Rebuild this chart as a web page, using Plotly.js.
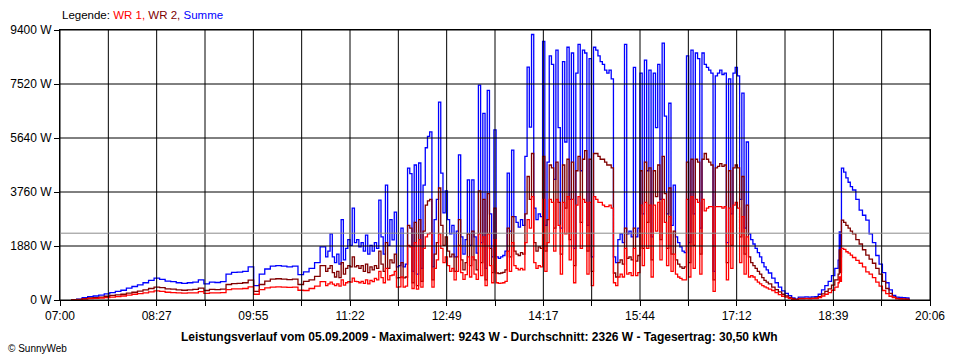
<!DOCTYPE html>
<html>
<head>
<meta charset="utf-8">
<script src="https://cdn.plot.ly/plotly-3.0.1.min.js"></script>
<style>
  html, body { margin: 0; padding: 0; background: #fff; }
  #chart { width: 960px; height: 360px; }
</style>
</head>
<body>
<div id="chart"></div>
<script>
// ---- Data (watts) ----
// Segment A: from 07:10, one sample every 5 minutes
const segAStart = "07:10";
const segAStep = 5;
const sumA = [0,30,80,120,140,170,210,260,300,340,410,470,530,600,680,760,720,660,640,600,580,600,620,700,560,620,610,640,900,960,970,1000,1150,500,900,1080,1180,1200,1180,1150,1180,880,980,1100,1300,1850];
const wr2A = [0,20,50,70,80,100,130,160,180,200,240,270,310,350,400,450,430,390,380,350,340,350,370,410,330,370,360,380,540,570,580,600,690,300,540,660,730,740,730,710,730,540,650,700,820,1200];
const wr1A = [0,10,30,50,60,70,80,100,120,140,170,200,220,250,280,320,300,270,260,250,240,250,250,290,230,250,250,260,360,390,390,400,460,200,360,420,450,460,450,440,450,340,330,400,480,640];

// Segment B: from 11:00, one sample every 2 minutes
const segBStart = "11:00";
const segBStep = 2;
const sumB = [
  1500,1700,2300,1500,1300,1600,1250,2800,1400,1800,2100,1900,3200,2000,2100,1850,2000,1700,2260,1600,1900,1700,2000,1800,3480,2200,1600,4000,1900,2800,
  2090,3060,1150,1200,2500,1150,1250,4590,4400,1000,4700,900,4770,1100,4000,5300,5700,5850,1150,2800,3500,6890,4420,3030,3800,
  2800,2300,2600,1500,2400,5050,2200,1600,2100,4180,1900,4180,2200,1630,7480,2000,6500,1100,7300,3000,1500,5920,1500,1450,1500,1550,1700,4420,2400,5220,2900,2700,2540,2800,2600,5000,8110,6020,9243,
  3200,2800,3000,2900,9000,2600,4800,8500,8200,4200,8700,6000,2500,8300,5500,8800,3500,8600,1800,7900,8900,4500,8700,8600,2600,8400,1500,8800,8700,8500,8300,8200,8000,7900,8000,7700,
  1500,1300,2100,2300,2000,8900,2300,2400,2200,8100,2200,2500,7900,3000,8350,4500,8000,2200,7900,6000,8200,3500,8940,6400,3000,6850,2600,4000,2200,
  2000,1850,1700,1650,8500,2000,8700,3000,8600,8400,2500,8600,8200,8100,8000,7900,1000,7800,7900,8000,7850,7900,2000,7700,3000,7900,8100,7800,3500,7200,2500,5500,2300,2100,1950,1800,1650,1500,1300,1150,1050,940
];
const wr2B = [
  1000,1100,1200,950,800,1000,780,1300,900,1100,1200,1150,1500,1150,1200,1100,1200,1000,1250,950,1150,1050,1200,1100,1700,1250,1000,2000,1100,1400,
  1290,1600,770,780,1300,770,800,2600,2500,600,2700,500,2800,650,2400,3300,3450,3500,700,1600,2000,3900,2600,1900,2200,
  1700,1500,1600,1000,1500,2800,1400,1050,1300,2300,1200,2400,1400,1050,3800,1300,3500,700,3700,1800,950,3200,940,920,940,960,1050,2500,1500,2900,1700,1600,1550,1650,1600,3000,4300,3500,5100,
  2000,1700,1850,1800,5000,1700,2800,4700,4600,2500,4800,3400,1600,4700,3200,4900,2100,4800,1200,4500,5000,2700,4900,5200,1700,4900,1000,5100,5100,5000,4900,4900,4800,4700,4700,4600,
  940,800,1300,1400,1250,2500,1450,1500,1400,2500,1350,1550,4500,1800,4800,2700,4600,1400,4500,3600,4700,2100,5000,3700,1800,3900,1600,2400,1400,
  1250,1150,1100,1150,4800,1300,4900,1900,4900,4800,1600,4900,5100,4900,4800,4700,700,4600,4650,4750,4650,4700,1300,4500,1900,4600,4700,4600,2200,4300,1600,3300,1500,1300,1200,1100,1000,900,780,680,620,560
];
const wr1B = [
  500,560,620,550,500,560,480,700,520,600,640,620,760,650,640,600,650,580,700,560,680,640,750,700,1000,780,600,1100,700,850,
  870,1000,450,460,800,450,480,1900,1850,400,2000,380,2100,450,1800,2200,2300,2330,450,1100,1400,2300,1800,1300,1500,
  1200,1000,1100,700,1000,1900,950,720,880,1500,800,1500,900,720,2300,850,2200,500,2300,1200,600,2100,600,580,590,600,650,1700,1000,2000,1200,1100,1050,1100,1050,2000,2800,2500,3600,
  1300,1100,1200,1150,3500,1000,2000,3500,3400,1700,3500,2600,900,3400,2300,3600,1400,3500,600,3300,3600,1800,3500,3400,900,3400,500,3600,3500,3400,3400,3300,3250,3250,3300,3200,
  600,500,800,900,800,1800,900,950,850,1800,850,950,3300,1200,3400,1800,3300,800,3300,2400,3400,1400,3500,2700,1200,2900,1000,1600,900,
  800,750,700,700,3500,800,3600,1100,3500,3400,900,3500,3100,3200,3250,3250,300,3250,3250,3250,3200,3250,700,3200,1100,3300,3400,3200,1300,2900,900,2200,800,850,800,700,620,560,500,460,420,380
];

// Segment C: explicit times
const timesC = ["17:43","17:46","17:49","17:52","17:55","17:58","18:01","18:04","18:07","18:10","18:13","18:16","18:19","18:22","18:25","18:28","18:31","18:34","18:37","18:40","18:43","18:44","18:45","18:46","18:48","18:50","18:52","18:54","18:56","18:59","19:02","19:05","19:08","19:11","19:14","19:17","19:20","19:23","19:26","19:29","19:32","19:35","19:38","19:41","19:44","19:47"];
const sumC = [760,600,450,320,230,150,70,30,100,100,110,100,110,120,200,350,500,650,850,1100,1390,2370,1500,4590,4450,4250,4100,3950,3830,3500,3130,2950,2780,2300,2000,1550,1250,950,600,350,160,100,90,80,70,0];
const wr2C = [450,360,280,200,140,90,45,20,60,60,60,60,65,70,120,210,300,390,520,700,900,1740,950,2780,2700,2600,2500,2400,2300,2100,1950,1750,1560,1420,1280,1100,900,650,400,230,110,60,50,40,30,0];
const wr1C = [330,260,190,130,100,60,25,10,40,40,50,40,45,50,80,140,200,260,340,450,600,800,650,1800,1760,1680,1630,1560,1480,1380,1280,1150,980,900,780,620,480,330,220,130,80,40,35,30,25,0];

// Axis / labels
const xStart = "07:00", xEnd = "20:06";
const xLabels = ["07:00","08:27","09:55","11:22","12:49","14:17","15:44","17:12","18:39","20:06"];
const yLabels = ["0 W","1880 W","3760 W","5640 W","7520 W","9400 W"];
const yMax = 9400, yStep = 1880;
const average = 2326;
const titleText = "Leistungsverlauf vom 05.09.2009 - Maximalwert: 9243 W - Durchschnitt: 2326 W - Tagesertrag: 30,50 kWh";

// ---- helpers ----
function toMin(t){ const p=t.split(":"); return (+p[0])*60 + (+p[1]); }
function seqTimes(start, step, n){ const s=toMin(start); const out=[]; for(let i=0;i<n;i++) out.push(s+i*step); return out; }

const xA = seqTimes(segAStart, segAStep, sumA.length);
const xB = seqTimes(segBStart, segBStep, sumB.length);
const xC = timesC.map(toMin);
const X = xA.concat(xB, xC);
const S = sumA.concat(sumB, sumC);
const W2 = wr2A.concat(wr2B, wr2C);
const W1 = wr1A.concat(wr1B, wr1C);

const x0 = toMin(xStart), x1 = toMin(xEnd);
const nInt = (xLabels.length - 1) * 2;
const tickvals = [], ticktext = [];
for (let k = 0; k <= nInt; k++) {
  tickvals.push(x0 + k * (x1 - x0) / nInt);
  ticktext.push(k % 2 === 0 ? xLabels[k / 2] : "");
}
const yvals = yLabels.map((_, i) => i * yStep);

const shapes = [];
tickvals.forEach(v => shapes.push({type:"line", xref:"x", yref:"paper", x0:v, x1:v, y0:0, y1:1, line:{color:"#000", width:1}, layer:"above"}));
yvals.forEach(v => shapes.push({type:"line", xref:"paper", yref:"y", x0:0, x1:1, y0:v, y1:v, line:{color:"#000", width:1}, layer:"above"}));
shapes.push({type:"line", xref:"paper", yref:"y", x0:0, x1:1, y0:average, y1:average, line:{color:"#8c8c8c", width:1}, layer:"above"});

const common = {type:"scatter", mode:"lines", x:X, hoverinfo:"skip"};
const traces = [
  Object.assign({}, common, {name:"Summe", y:S, line:{shape:"hv", width:1.3, color:"#0000ff"}}),
  Object.assign({}, common, {name:"WR 2", y:W2, line:{shape:"hv", width:1.3, color:"#800000"}}),
  Object.assign({}, common, {name:"WR 1", y:W1, line:{shape:"hv", width:1.3, color:"#ff0000"}})
];

const font = {family:"Liberation Sans, Arial, sans-serif", size:11, color:"#000"};
const layout = {
  width:960, height:360,
  margin:{l:60, r:30, t:30, b:60, pad:0},
  paper_bgcolor:"#fff", plot_bgcolor:"#fff",
  showlegend:false,
  font: font,
  xaxis:{range:[x0, x1], tickmode:"array", tickvals:tickvals, ticktext:ticktext, showgrid:false, zeroline:false,
         showline:true, linecolor:"#000", linewidth:1, mirror:true,
         ticks:"outside", ticklen:5, tickcolor:"#000", tickfont:{family:font.family, size:12, color:"#000"}},
  yaxis:{range:[0, yMax], tickmode:"array", tickvals:yvals, ticktext:yLabels, showgrid:false, zeroline:false,
         showline:true, linecolor:"#000", linewidth:1, mirror:true,
         ticks:"outside", ticklen:5, tickcolor:"#000", tickfont:{family:font.family, size:12, color:"#000"}},
  shapes: shapes,
  annotations:[
    {xref:"paper", yref:"paper", x:0, y:1.055, xanchor:"left", yanchor:"middle", showarrow:false,
     text:'Legende: <span style="color:#ff0000">WR 1,</span> <span style="color:#800000">WR 2,</span> <span style="color:#0000ff">Summe</span>',
     font:{family:font.family, size:11.5, color:"#000"}},
    {xref:"paper", yref:"paper", x:0.482, y:-0.137, xanchor:"center", yanchor:"middle", showarrow:false,
     text:"<b>" + titleText + "</b>", font:{family:font.family, size:12, color:"#000"}},
    {xref:"paper", yref:"paper", x:-0.062, y:-0.178, xanchor:"left", yanchor:"middle", showarrow:false,
     text:"© SunnyWeb", font:{family:font.family, size:10, color:"#000"}}
  ]
};

Plotly.newPlot("chart", traces, layout, {staticPlot:true, displayModeBar:false});
</script>
</body>
</html>
